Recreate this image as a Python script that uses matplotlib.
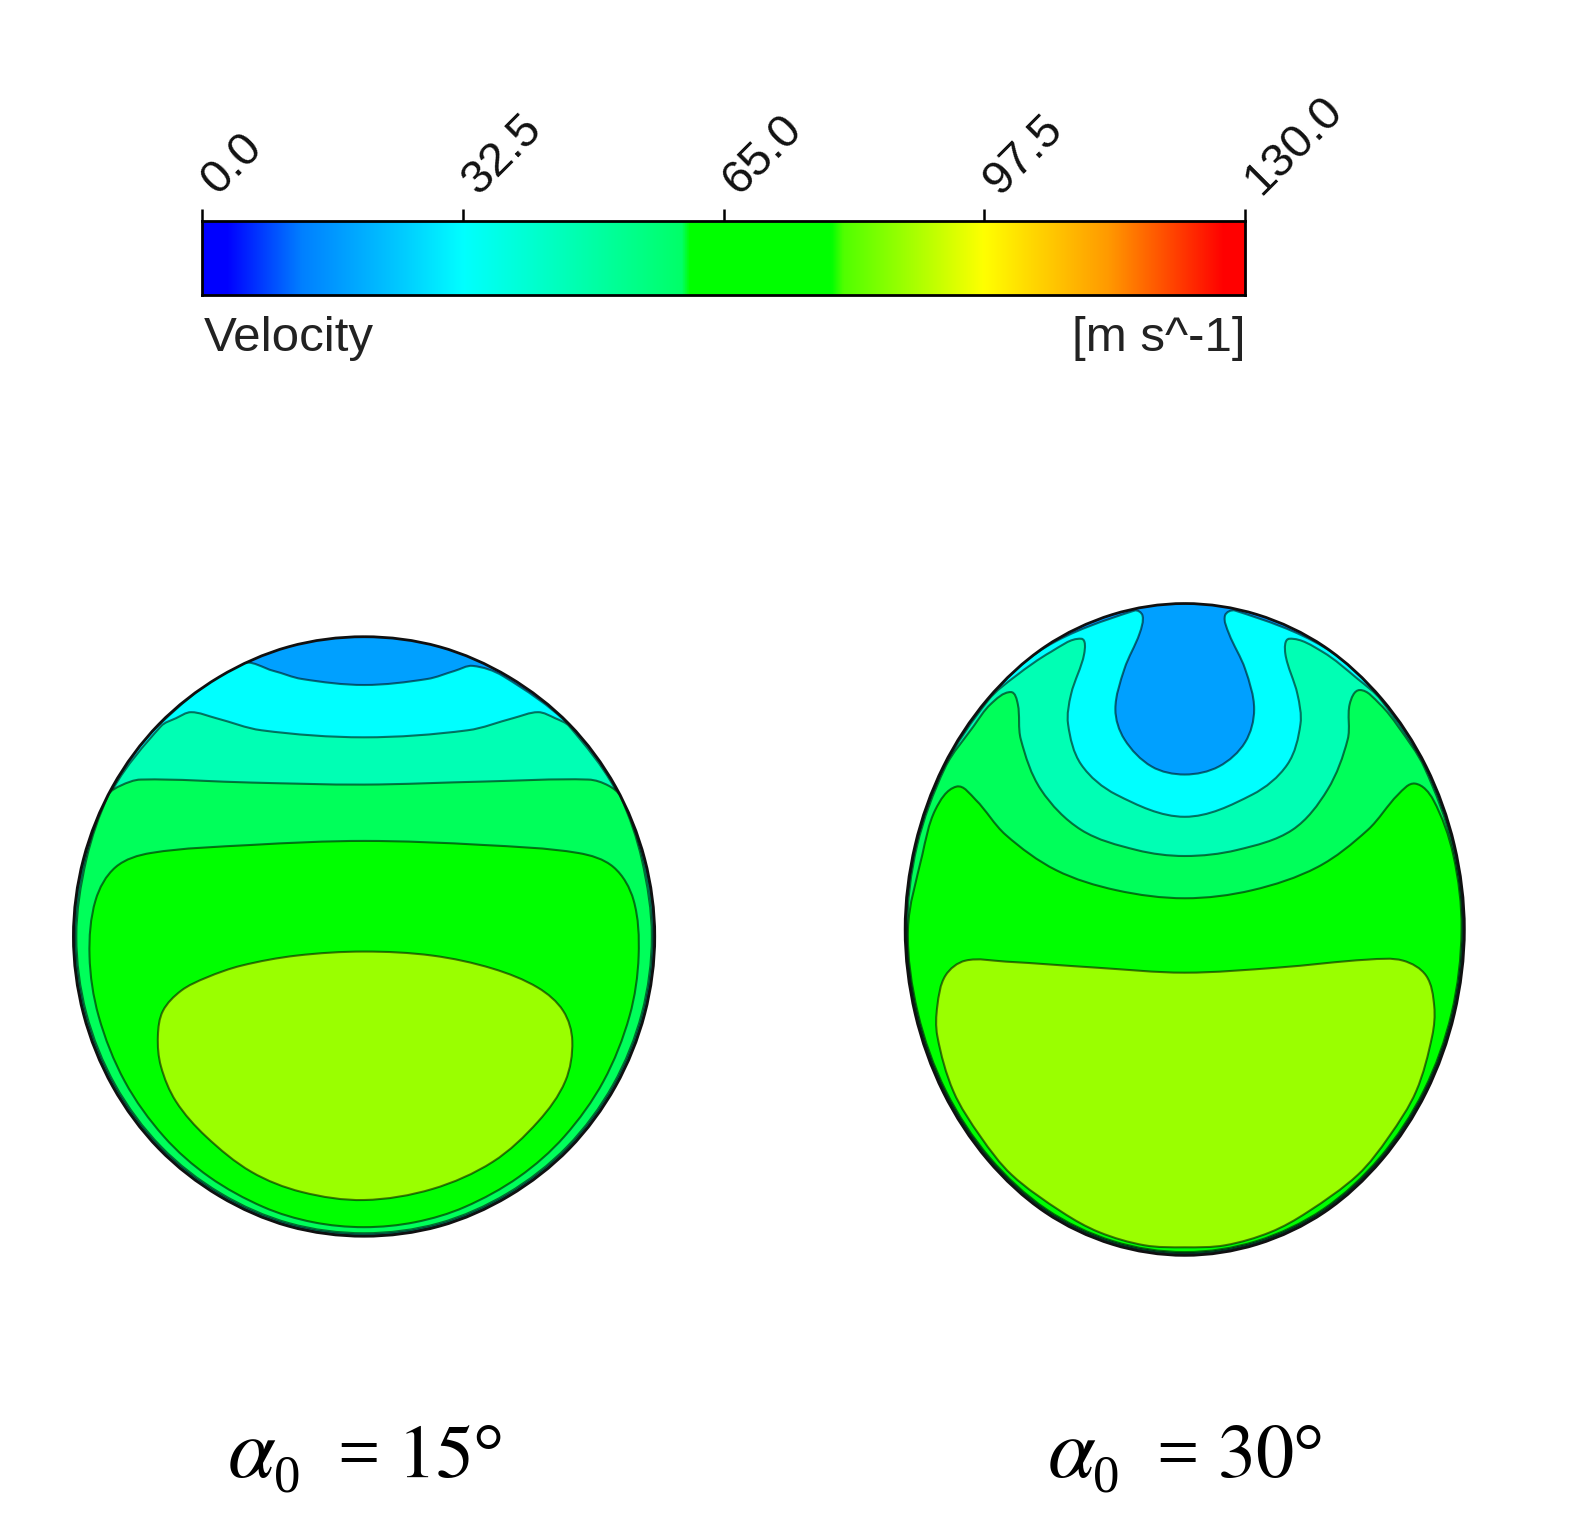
import numpy as np
import matplotlib
matplotlib.use('Agg')
import matplotlib.pyplot as plt
from matplotlib.path import Path
from matplotlib.patches import PathPatch
from matplotlib.colors import LinearSegmentedColormap
from matplotlib.transforms import ScaledTranslation

plt.rcParams['mathtext.fontset'] = 'stix'

# colorbar
tick_vals = [0.0, 32.5, 65.0, 97.5, 130.0]
tick_labels = ['0.0', '32.5', '65.0', '97.5', '130.0']
cbar_title = 'Velocity'
cbar_units = '[m s^-1]'
cbar_stops = [0.0, 3.0, 12.4, 25.0, 32.5, 59.8, 60.8, 78.5, 80.0, 97.5, 113.0, 127.5, 130.0]
cbar_colors = ['#0000ff', '#0000ff', '#0080ff', '#00ccff', '#00ffff', '#00ff68', '#00ff00',
               '#00ff00', '#50ff00', '#ffff00', '#ff9a00', '#ff0000', '#ff0000']

# band colours, low velocity to high
blue = '#00a0ff'
cyan = '#00ffff'
aqua = '#00ffb4'
spring = '#00ff5a'
green = '#00ff00'
lime = '#9aff00'

# alpha = 15 deg, contour outlines (pixels)
left_outline = [(362, 633), (437, 643), (506, 673), (566, 720), (612, 782), (641, 854),
                (651, 931), (641, 1008), (612, 1080), (566, 1142), (506, 1189), (437, 1219),
                (362, 1229), (287, 1219), (218, 1189), (158, 1142), (112, 1080), (83, 1008),
                (73, 931), (83, 854), (112, 782), (158, 720), (218, 673), (287, 643)]
left_cyan = [(240, 660), (272, 667), (300, 675), (362, 681), (425, 675), (452, 667),
             (470, 662), (500, 672)]
left_aqua = [(160, 722), (175, 714), (190, 708), (215, 714), (260, 726), (362, 733),
             (465, 726), (510, 714), (535, 708), (552, 714), (566, 722)]
left_spring = [(108, 790), (120, 781), (140, 775), (250, 778), (362, 780), (480, 777),
               (585, 775), (605, 781), (617, 792)]
left_green = [(89, 950), (95, 895), (115, 862), (150, 848), (250, 840), (362, 836),
              (480, 840), (575, 848), (610, 862), (630, 895), (635, 950), (626, 1010),
              (600, 1075), (561, 1130), (516, 1170), (462, 1200), (413, 1215), (362, 1220),
              (311, 1215), (262, 1200), (208, 1170), (163, 1130), (124, 1075), (98, 1010)]
left_lime = [(362, 946), (430, 950), (490, 963), (535, 982), (560, 1005), (569, 1035),
             (562, 1075), (535, 1115), (490, 1155), (430, 1182), (362, 1193), (300, 1185),
             (250, 1165), (205, 1130), (175, 1095), (160, 1060), (157, 1030), (162, 1005),
             (180, 985), (205, 972), (240, 960), (295, 950)]

# alpha = 30 deg
right_outline = [(1178, 600), (1250, 611), (1317, 643), (1374, 695), (1418, 762), (1446, 840),
                 (1456, 924), (1446, 1008), (1418, 1086), (1374, 1153), (1317, 1205), (1250, 1237),
                 (1178, 1248), (1106, 1237), (1039, 1205), (982, 1153), (938, 1086), (910, 1008),
                 (900, 924), (910, 840), (938, 762), (982, 695), (1039, 643), (1106, 611)]
right_cyan = [(1128, 607), (1136, 612), (1133, 630), (1118, 665), (1109, 705), (1118, 735),
              (1145, 762), (1178, 770), (1212, 762), (1238, 738), (1247, 705), (1238, 665),
              (1222, 630), (1218, 612), (1228, 607)]
right_aqua = [(1010, 672), (1045, 648), (1075, 635), (1078, 650), (1065, 690), (1062, 720),
              (1075, 760), (1110, 790), (1178, 812), (1245, 790), (1280, 760), (1293, 720),
              (1290, 690), (1278, 650), (1282, 635), (1315, 648), (1350, 675)]
right_spring = [(968, 722), (985, 700), (1005, 688), (1012, 700), (1015, 735), (1035, 785),
                (1075, 825), (1130, 845), (1178, 851), (1230, 845), (1285, 825), (1320, 785),
                (1340, 735), (1342, 700), (1352, 686), (1372, 700), (1390, 722)]
right_green = [(917, 850), (930, 805), (951, 782), (970, 795), (1000, 830), (1050, 865),
               (1110, 885), (1178, 893), (1245, 885), (1310, 862), (1360, 825), (1390, 790),
               (1407, 779), (1425, 795), (1445, 850)]
right_lime = [(960, 955), (1000, 956), (1090, 962), (1178, 967), (1270, 962), (1360, 954),
              (1395, 955), (1418, 970), (1426, 1000), (1424, 1030), (1408, 1085), (1381, 1130),
              (1350, 1168), (1300, 1205), (1263, 1225), (1218, 1238), (1178, 1240), (1138, 1238),
              (1093, 1225), (1056, 1205), (1006, 1168), (975, 1130), (948, 1085), (932, 1030),
              (932, 1000), (940, 970)]

W, H = 1568, 1530


def smooth_path(pts):
    # closed curve through the points, handles scaled by the chord so uneven spacing stays smooth
    p = np.array(pts, dtype=float)
    n = len(p)
    t = np.array([p[(i + 1) % n] - p[i - 1] for i in range(n)])
    t = t / np.linalg.norm(t, axis=1, keepdims=True)
    verts = [p[0]]
    codes = [Path.MOVETO]
    for i in range(n):
        j = (i + 1) % n
        d = np.linalg.norm(p[j] - p[i]) / 3
        verts += [p[i] + t[i] * d, p[j] - t[j] * d, p[j]]
        codes += [Path.CURVE4] * 3
    return Path(verts, codes)


def with_rim(curve, outline, scale):
    # top edge of a band, closed along the drop outline
    o = np.array(outline, dtype=float)
    c = (o.min(axis=0) + o.max(axis=0)) / 2
    low = max(curve[0][1], curve[-1][1]) + 15
    rim = [tuple(c + (q - c) * scale) for q in o if q[1] > low]
    return list(curve) + rim


def draw_drop(ax, outline, bands):
    edge = smooth_path(outline)
    clip = PathPatch(edge, fc=blue, ec='none', zorder=1)
    ax.add_patch(clip)
    for i, (pts, col) in enumerate(bands):
        p = PathPatch(smooth_path(pts), fc=col, ec=(0, 0, 0, 0.55), lw=1.5, zorder=2 + i)
        ax.add_patch(p)
        p.set_clip_path(clip)
    ax.add_patch(PathPatch(edge, fc='none', ec='#101010', lw=2.0, zorder=20))


fig = plt.figure(figsize=(15.77, 15.39), dpi=100)
ax = fig.add_axes([0, 0, 1, 1])
ax.set_xlim(0, W)
ax.set_ylim(H, 0)
ax.axis('off')

draw_drop(ax, left_outline, [
    (with_rim(left_cyan, left_outline, 0.998), cyan),
    (with_rim(left_aqua, left_outline, 0.995), aqua),
    (with_rim(left_spring, left_outline, 0.99), spring),
    (left_green, green),
    (left_lime, lime),
])
draw_drop(ax, right_outline, [
    (with_rim(right_cyan, right_outline, 0.998), cyan),
    (with_rim(right_aqua, right_outline, 0.996), aqua),
    (with_rim(right_spring, right_outline, 0.993), spring),
    (with_rim(right_green, right_outline, 0.99), green),
    (right_lime, lime),
])

# captions
for x0, val in [(226, '15'), (1041, '30')]:
    ax.text(x0, 1468, r'$\alpha$', fontsize=62, va='baseline', ha='left')
    ax.text(x0 + 46, 1483, '0', fontsize=38, family='Liberation Serif', va='baseline', ha='left')
    ax.text(x0 + 109, 1468, '=', fontsize=54, family='Liberation Serif', va='baseline', ha='left')
    ax.text(x0 + 169, 1468, r'$\mathrm{' + val + r'}$', fontsize=55, va='baseline', ha='left')
    ax.text(x0 + 244, 1468, '°', fontsize=56, family='Liberation Serif', va='baseline', ha='left')

# colorbar on its own axes so the ticks come from the value scale
cax = fig.add_axes([201 / W, 1 - 293 / H, 1037 / W, 73 / H])
stops = [s / 130.0 for s in cbar_stops]
cmap = LinearSegmentedColormap.from_list('vel', list(zip(stops, cbar_colors)), N=512)
grad = np.linspace(0, 130, 512).reshape(1, -1)
cax.imshow(grad, cmap=cmap, vmin=0, vmax=130, aspect='auto', extent=(0, 130, 0, 1))
cax.set_yticks([])
cax.set_xticks(tick_vals)
cax.set_xticklabels(tick_labels, rotation=45, ha='left', va='center', rotation_mode='anchor',
                    family='Liberation Sans', fontsize=34, color='#111111')
cax.tick_params(axis='x', top=True, bottom=False, labeltop=True, labelbottom=False,
                length=9, width=1.8, pad=15)
shift = ScaledTranslation(5 / 72, 0, fig.dpi_scale_trans)
for lab in cax.get_xticklabels():
    lab.set_transform(lab.get_transform() + shift)
for s in cax.spines.values():
    s.set_linewidth(2)

ax.text(203, 349, cbar_title, fontsize=35.5, family='Liberation Sans', ha='left', va='baseline', color='#222222')
ax.text(1238, 349, cbar_units, fontsize=35.5, family='Liberation Sans', ha='right', va='baseline', color='#222222')

fig.savefig('out.png', dpi=100)
